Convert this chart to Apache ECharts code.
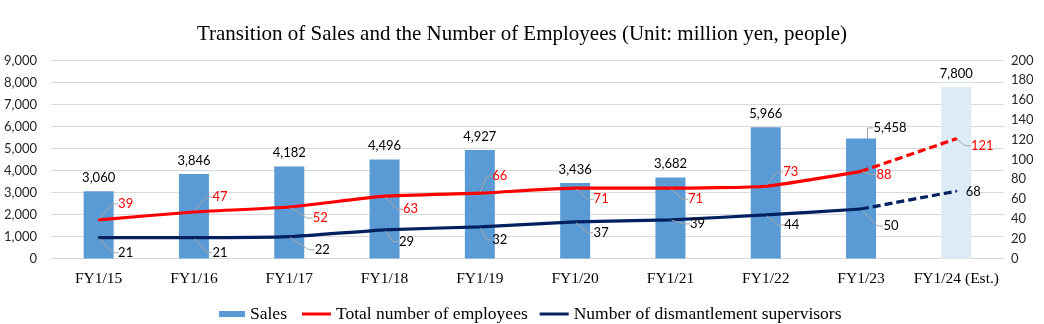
<!DOCTYPE html>
<html>
<head>
<meta charset="utf-8">
<script src="https://cdn.jsdelivr.net/npm/echarts@6/dist/echarts.min.js"></script>
<style>
  html, body { margin: 0; padding: 0; background: #fff; }
  #chart { width: 1044px; height: 324px; }
</style>
</head>
<body>
<div id="chart"></div>
<script>
// Fiscal years (the last one is an estimate)
const categories = ['FY1/15', 'FY1/16', 'FY1/17', 'FY1/18', 'FY1/19', 'FY1/20', 'FY1/21', 'FY1/22', 'FY1/23', 'FY1/24 (Est.)'];
// Sales, million yen
const sales = [3060, 3846, 4182, 4496, 4927, 3436, 3682, 5966, 5458, 7800];
// Headcounts, people
const employees = [39, 47, 52, 63, 66, 71, 71, 73, 88, 121];
const supervisors = [21, 21, 22, 29, 32, 37, 39, 44, 50, 68];
// Axis ticks
const salesTicks = { min: 0, max: 9000, interval: 1000 };
const peopleTicks = { min: 0, max: 200, interval: 20 };

// Label offsets (px) from each point, drawn with leader lines
const employeeLabelShift = [[27, -16], [26, -15], [31, 11], [26, 13], [20, -17], [26, 11], [25, 11], [25, -14], [23, 3], [26, 7]];
const supervisorLabelShift = [[27, 15], [26, 15], [33, 13], [22, 12], [20, 13], [26, 11], [27, 4], [26, 10], [30, 17], [17, 1]];
const salesLabelShift = [[0, 0], [0, 0], [0, 0], [0, 0], [0, 0], [0, 0], [0, 0], [0, 0], [29, 3], [0, 0]];
// Which labels get a leader line
const salesLeader = [false, false, false, false, false, false, false, false, true, false];
const supervisorLeader = [true, true, true, true, true, true, true, true, true, false];

const estIndex = categories.length - 1;
const BLUE = '#5B9BD5', LIGHT = '#DDEBF7', RED = '#FF0000', NAVY = '#002060';
const sansFont = 'Lato, "Liberation Sans", sans-serif';
const serifFont = '"Liberation Serif", "Times New Roman", serif';
const fmt = v => v.toLocaleString('en-US');

const leaderStyle = { length2: 6, lineStyle: { color: '#A6A6A6', width: 1 } };
const leaderOn = show => Object.assign({ show: show }, leaderStyle);

// Solid part up to the last actual year, dashed part into the estimate
function lineData(values, dashed, leaders) {
  return values.map((v, i) => {
    if (dashed ? i < estIndex - 1 : i >= estIndex) return null;
    const showLabel = dashed ? i === estIndex : true;
    return {
      value: v,
      label: { show: showLabel },
      labelLine: leaderOn(showLabel && (leaders ? leaders[i] : true))
    };
  });
}

function lineSeries(name, values, color, shifts, dashed, leaders) {
  return {
    name: name,
    type: 'line',
    yAxisIndex: 1,
    data: lineData(values, dashed, leaders),
    smooth: 0.15,
    symbol: 'circle',
    symbolSize: 2,
    showSymbol: true,
    color: color,
    itemStyle: { color: color },
    lineStyle: { color: color, width: 3.2, type: dashed ? [8, 4] : 'solid' },
    label: {
      show: true,
      position: 'inside',
      color: color === RED ? RED : '#000',
      fontFamily: sansFont,
      fontSize: 13
    },
    labelLine: leaderOn(true),
    labelLayout: p => ({ dx: shifts[p.dataIndex][0], dy: shifts[p.dataIndex][1] }),
    z: 3
  };
}

const chart = echarts.init(document.getElementById('chart'), null, { renderer: 'canvas' });
chart.setOption({
  animation: false,
  title: {
    text: 'Transition of Sales and the Number of Employees (Unit: million yen, people)',
    left: 'center',
    top: 19,
    textStyle: { fontFamily: serifFont, fontSize: 21, fontWeight: 'normal', color: '#000' }
  },
  legend: [
    {
      data: [{ name: 'Sales', icon: 'rect' }],
      left: 214, top: 300,
      itemWidth: 26, itemHeight: 6,
      textStyle: { fontFamily: serifFont, fontSize: 17.5, color: '#000' }
    },
    {
      data: [{ name: 'Total number of employees', icon: 'rect' }, { name: 'Number of dismantlement supervisors', icon: 'rect' }],
      left: 297, top: 300,
      itemWidth: 29, itemHeight: 3, itemGap: 12,
      textStyle: { fontFamily: serifFont, fontSize: 17.5, color: '#000' }
    }
  ],
  grid: { left: 51, right: 40, top: 60.5, bottom: 65.5 },
  xAxis: {
    type: 'category',
    data: categories,
    axisTick: { show: false },
    axisLine: { lineStyle: { color: '#D9D9D9' } },
    axisLabel: { interval: 0, fontFamily: serifFont, fontSize: 15.5, color: '#000', margin: 12 }
  },
  yAxis: [
    {
      type: 'value', min: salesTicks.min, max: salesTicks.max, interval: salesTicks.interval,
      axisLabel: { fontFamily: sansFont, fontSize: 13, color: '#262626', margin: 14, formatter: v => fmt(v) },
      splitLine: { lineStyle: { color: '#D9D9D9' } },
      axisLine: { show: false }, axisTick: { show: false }
    },
    {
      type: 'value', min: peopleTicks.min, max: peopleTicks.max, interval: peopleTicks.interval,
      axisLabel: { fontFamily: sansFont, fontSize: 13, color: '#262626', margin: 7 },
      splitLine: { show: false },
      axisLine: { show: false }, axisTick: { show: false }
    }
  ],
  series: [
    {
      name: 'Sales',
      type: 'bar',
      yAxisIndex: 0,
      barWidth: 30,
      color: BLUE,
      data: sales.map((v, i) => ({
        value: v,
        itemStyle: { color: i === estIndex ? LIGHT : BLUE },
        labelLine: leaderOn(salesLeader[i])
      })),
      label: {
        show: true, position: 'top', distance: 7,
        fontFamily: sansFont, fontSize: 13, color: '#000',
        formatter: p => fmt(p.value)
      },
      labelLine: leaderOn(false),
      labelLayout: p => ({ dx: salesLabelShift[p.dataIndex][0], dy: salesLabelShift[p.dataIndex][1] }),
      z: 2
    },
    lineSeries('Total number of employees', employees, RED, employeeLabelShift, false, null),
    lineSeries('Total number of employees', employees, RED, employeeLabelShift, true, null),
    lineSeries('Number of dismantlement supervisors', supervisors, NAVY, supervisorLabelShift, false, supervisorLeader),
    lineSeries('Number of dismantlement supervisors', supervisors, NAVY, supervisorLabelShift, true, supervisorLeader)
  ]
});
</script>
</body>
</html>
